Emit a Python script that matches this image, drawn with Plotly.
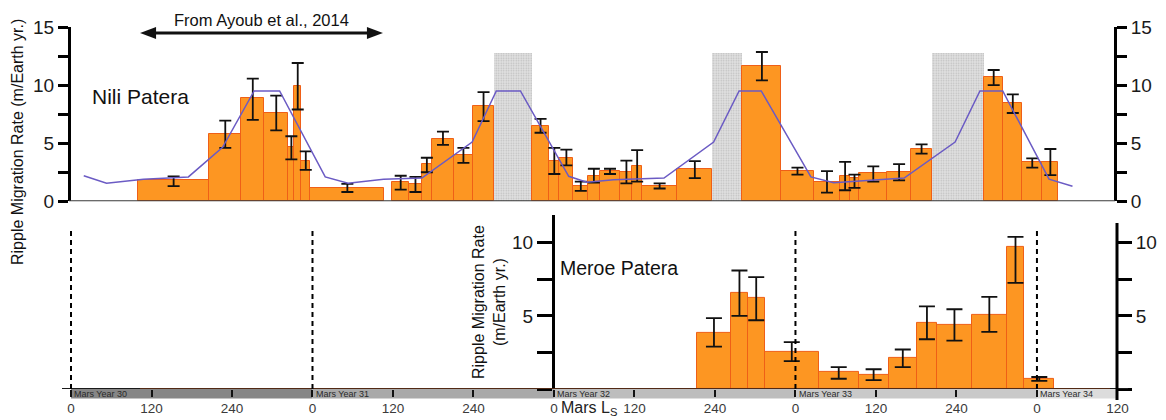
import plotly.graph_objects as go

W, H = 1166, 420

# ---------------- data (cumulative Ls, 0 = MY30 Ls 0) ----------------
nili_start = [100, 206, 254, 288, 324, 333, 343, 357, 479, 504, 523, 538, 571, 599,
              687, 713, 728, 749, 771, 788, 819, 837, 851, 904, 1001, 1059, 1107,
              1147, 1161, 1175, 1217, 1252, 1361, 1390, 1418, 1448]
nili_end = [206, 254, 288, 324, 333, 343, 357, 467, 504, 523, 538, 571, 599, 631,
            713, 728, 749, 771, 788, 819, 837, 851, 904, 956, 1059, 1107, 1147,
            1161, 1175, 1217, 1252, 1284, 1390, 1418, 1448, 1472]
nili_rate = [1.8, 5.8, 8.9, 7.6, 4.7, 9.9, 3.5, 1.15, 1.65, 1.5, 3.2, 5.4, 4.0, 8.2,
             6.5, 3.5, 3.75, 1.3, 2.2, 2.6, 2.55, 3.0, 1.35, 2.8, 11.65, 2.6, 1.65,
             2.2, 2.0, 2.4, 2.55, 4.5, 10.7, 8.5, 3.4, 3.4]
nili_hi = [2.15, 6.95, 10.55, 9.1, 5.6, 11.9, 4.3, 1.5, 2.2, 2.1, 3.75, 6.0, 4.6, 9.4,
           7.1, 4.6, 4.45, 1.7, 2.8, 2.8, 3.5, 4.4, 1.55, 3.45, 12.85, 2.9, 2.6,
           3.4, 2.3, 3.0, 3.2, 4.9, 11.3, 9.2, 3.7, 4.5]
nili_lo = [1.3, 4.6, 7.0, 6.1, 3.6, 7.9, 2.7, 0.8, 1.0, 0.8, 2.5, 4.85, 3.3, 6.9,
           5.9, 2.35, 3.1, 0.9, 1.6, 2.35, 1.55, 1.7, 1.1, 2.0, 10.4, 2.3, 0.75,
           0.95, 1.15, 1.7, 1.8, 4.1, 10.0, 7.6, 2.9, 2.25]

dust_start = [631, 956, 1284]
dust_end = [687, 1001, 1361]
dust_top = 12.8

clim_ls = [19, 53, 108, 175, 226, 273, 311, 379, 413, 466, 523, 598, 634, 670,
           742, 769, 809, 884, 958, 996, 1029, 1103, 1137, 1242, 1318, 1355, 1389,
           1458, 1493]
clim_rate = [2.2, 1.55, 1.9, 2.1, 4.65, 9.5, 9.5, 2.1, 1.55, 1.9, 2.0, 5.1, 9.5, 9.5,
             2.15, 1.65, 1.85, 2.0, 5.1, 9.5, 9.5, 2.1, 1.6, 2.0, 5.1, 9.5, 9.5,
             1.9, 1.3]

meroe_start = [933, 984, 1009, 1034, 1115, 1174, 1219, 1261, 1291, 1343, 1395, 1421]
meroe_end = [984, 1009, 1034, 1115, 1174, 1219, 1261, 1291, 1343, 1395, 1421, 1466]
meroe_rate = [3.85, 6.55, 6.25, 2.55, 1.15, 0.95, 2.1, 4.55, 4.4, 5.05, 9.7, 0.7]
meroe_hi = [4.85, 8.1, 7.65, 3.2, 1.5, 1.35, 2.7, 5.65, 5.45, 6.3, 10.4, 0.82]
meroe_lo = [2.9, 5.0, 4.7, 1.9, 0.7, 0.6, 1.5, 3.4, 3.3, 3.9, 7.25, 0.55]

ayoub_start, ayoub_end = 103, 465   # extent of the "From Ayoub et al., 2014" arrow

mars_years = [30, 31, 32, 33, 34]
year_start = [0, 360, 720, 1080, 1440]
year_end = [360, 720, 1080, 1440, 1560]
year_colors = ["#868686", "#a9a9a9", "#bdbdbd", "#c9c9c9", "#dcdcdc"]
dashed_ls = [0, 360, 1080, 1440]

x_ticks = list(range(0, 1561, 120))
x_ticktext = [str(v % 360) for v in x_ticks]

# ---------------- geometry helpers ----------------
K = 0.6708          # px per Ls
X0 = 71             # px of Ls 0
def px(xp): return xp / W
def py(yp): return (H - yp) / H

FONT = "Liberation Sans, Arial, sans-serif"
ORANGE = "#fd9622"
EDGE = "#ef5f17"

fig = go.Figure()

# dust storm (stippled) regions
fig.add_trace(go.Bar(
    x=[(a + b) / 2 for a, b in zip(dust_start, dust_end)],
    y=[dust_top] * len(dust_start),
    width=[b - a for a, b in zip(dust_start, dust_end)],
    marker=dict(color="#e0e0e0", line=dict(width=0),
                pattern=dict(shape=".", fgcolor="#bcbcbc", bgcolor="#e2e2e2",
                             size=2.5, solidity=0.3)),
    xaxis="x", yaxis="y", hoverinfo="skip", showlegend=False))

# Nili Patera bars
fig.add_trace(go.Bar(
    x=[(a + b) / 2 for a, b in zip(nili_start, nili_end)],
    y=nili_rate,
    width=[b - a for a, b in zip(nili_start, nili_end)],
    marker=dict(color=ORANGE, line=dict(color=EDGE, width=1)),
    error_y=dict(type="data", symmetric=False,
                 array=[h - r for h, r in zip(nili_hi, nili_rate)],
                 arrayminus=[r - l for r, l in zip(nili_rate, nili_lo)],
                 color="#111111", thickness=1.8, width=6),
    xaxis="x", yaxis="y", showlegend=False))

# climatology line
fig.add_trace(go.Scatter(
    x=clim_ls, y=clim_rate, mode="lines",
    line=dict(color="#6b5bc4", width=1.5),
    xaxis="x", yaxis="y", showlegend=False))

# Meroe Patera bars
fig.add_trace(go.Bar(
    x=[(a + b) / 2 for a, b in zip(meroe_start, meroe_end)],
    y=meroe_rate,
    width=[b - a for a, b in zip(meroe_start, meroe_end)],
    marker=dict(color=ORANGE, line=dict(color=EDGE, width=1)),
    error_y=dict(type="data", symmetric=False,
                 array=[h - r for h, r in zip(meroe_hi, meroe_rate)],
                 arrayminus=[r - l for r, l in zip(meroe_rate, meroe_lo)],
                 color="#111111", thickness=1.8, width=8),
    xaxis="x", yaxis="y2", showlegend=False))

# dummy traces for right-hand axes
fig.add_trace(go.Scatter(x=[-50], y=[0], mode="markers", marker=dict(opacity=0),
                         xaxis="x", yaxis="y3", hoverinfo="skip", showlegend=False))
fig.add_trace(go.Scatter(x=[-50], y=[0], mode="markers", marker=dict(opacity=0),
                         xaxis="x", yaxis="y4", hoverinfo="skip", showlegend=False))

top_dom = [py(201.3), py(27)]
bot_dom = [py(389), py(214.9)]

def yax(ticklen, line=True):
    return dict(showline=line, linecolor="black", linewidth=3, ticks="outside",
                tickcolor="black", tickwidth=3, ticklen=ticklen,
                showgrid=False, zeroline=False, automargin=False,
                tickmode="linear", tick0=0, dtick=5,
                minor=dict(ticks="outside", ticklen=ticklen, tickwidth=3,
                           tickcolor="black", tick0=0, dtick=2.5, showgrid=False),
                tickfont=dict(family=FONT, size=19, color="#1a1a1a"),
                anchor="free", fixedrange=True)

fig.update_layout(
    template="none",
    width=W, height=H, margin=dict(l=0, r=0, t=0, b=0, pad=0, autoexpand=False),
    paper_bgcolor="white", plot_bgcolor="rgba(0,0,0,0)",
    barmode="overlay", bargap=0, showlegend=False,
    xaxis=dict(domain=[0, 1], range=[-X0 / K, (W - X0) / K], anchor="y2",
               showline=False, showgrid=False, zeroline=False, automargin=False,
               ticks="outside", ticklen=7, tickwidth=2, tickcolor="#111111",
               tickmode="array", tickvals=x_ticks, ticktext=x_ticktext,
               tickfont=dict(family=FONT, size=13.5, color="#3a3a3a"),
               fixedrange=True),
    yaxis=dict(domain=top_dom, range=[0, 15], position=px(69), side="left",
               **yax(10)),
    yaxis3=dict(range=[0, 15], overlaying="y", position=px(1115), side="right",
                **yax(10)),
    yaxis2=dict(domain=bot_dom, range=[0, 11.9], position=px(553), side="left",
                **yax(15)),
    yaxis4=dict(range=[0, 11.9], overlaying="y2", position=px(1117), side="right",
                **yax(14, line=False)),
)
# bottom axes label only 5 and 10
fig.update_layout(yaxis2=dict(tickmode="array", tickvals=[5, 10], ticktext=["5", "10"]),
                  yaxis4=dict(tickmode="array", tickvals=[5, 10], ticktext=["5", "10"]))

shapes = []
# Mars-year band
for s, e, c in zip(year_start, year_end, year_colors):
    shapes.append(dict(type="rect", xref="x", yref="paper", x0=s, x1=e,
                       y0=py(398.5), y1=py(389), fillcolor=c, line=dict(width=0),
                       layer="below"))
# top panel baseline
shapes.append(dict(type="line", xref="paper", yref="y", x0=px(69), x1=px(1115),
                   y0=0, y1=0, line=dict(color="#3a3a3a", width=2)))
# bottom axis line
shapes.append(dict(type="line", xref="paper", yref="y2", x0=px(62), x1=px(1128),
                   y0=0, y1=0, line=dict(color="#1a1a1a", width=2)))
shapes.append(dict(type="line", xref="paper", yref="y2", x0=px(140), x1=px(1110),
                   y0=0, y1=0, line=dict(color="#8a3a10", width=1.2)))
# right bottom axis line
shapes.append(dict(type="line", xref="paper", yref="paper", x0=px(1117), x1=px(1117),
                   y0=py(400), y1=py(223), line=dict(color="black", width=3)))
# dashed year boundaries
for d in dashed_ls:
    shapes.append(dict(type="line", xref="x", yref="paper", x0=d, x1=d,
                       y0=py(389), y1=py(228),
                       line=dict(color="black", width=2, dash="5px,4px")))
# double-headed arrow (From Ayoub et al.)
ya = py(33)
hl = 16 / K          # head length in Ls
hh = 6 / H           # head half-height in paper
shapes.append(dict(type="line", xref="x", yref="paper", x0=ayoub_start + hl * 0.8,
                   x1=ayoub_end - hl * 0.8, y0=ya, y1=ya,
                   line=dict(color="#111111", width=3)))
shapes.append(dict(type="path", xref="x", yref="paper",
                   path=f"M {ayoub_start},{ya} L {ayoub_start + hl},{ya + hh} "
                        f"L {ayoub_start + hl},{ya - hh} Z",
                   fillcolor="#111111", line=dict(width=0)))
shapes.append(dict(type="path", xref="x", yref="paper",
                   path=f"M {ayoub_end},{ya} L {ayoub_end - hl},{ya + hh} "
                        f"L {ayoub_end - hl},{ya - hh} Z",
                   fillcolor="#111111", line=dict(width=0)))
fig.update_layout(shapes=shapes)

def note(text, x, y, size, color="#111111", angle=0, xanchor="center"):
    return dict(text=text, xref="paper", yref="paper", x=x, y=y, showarrow=False,
                xanchor=xanchor, yanchor="middle", textangle=angle,
                font=dict(family=FONT, size=size, color=color))

ann = [
    note("From Ayoub et al., 2014", px(261), py(20), 16.5),
    note("Nili Patera", px(140), py(97), 21),
    note("Meroe Patera", px(619), py(268), 19.5),
    note("Ripple Migration Rate (m/Earth yr.)", px(17), py(142), 16, angle=-90),
    note("Ripple Migration Rate<br>(m/Earth yr.)", px(489), py(302), 16, angle=-90),
    note("Mars L<sub>S</sub>", px(589), py(408), 16, color="#222222"),
]
for yr, s in zip(mars_years, year_start):
    ann.append(dict(text=f"Mars Year {yr}", xref="x", yref="paper", x=s + 2,
                    y=py(393.8), xanchor="left", yanchor="middle", showarrow=False,
                    font=dict(family=FONT, size=9, color="#2a2a2a")))
fig.update_layout(annotations=ann)

fig.write_html("out.html")
